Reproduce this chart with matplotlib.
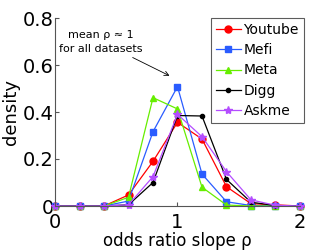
import numpy as np
import matplotlib.pyplot as plt

# odds ratio slope bins
rho = [0, 0.2, 0.4, 0.6, 0.8, 1.0, 1.2, 1.4, 1.6, 1.8, 2.0]

youtube = [0, 0, 0, 0.047, 0.19, 0.356, 0.285, 0.082, 0.01, 0.005, 0]
mefi = [0, 0, 0, 0.021, 0.316, 0.508, 0.136, 0.018, 0.002, 0.001, 0]
meta = [0, 0, 0, 0.037, 0.461, 0.413, 0.08, 0.004, 0.0, 0.0, 0]
digg = [0, 0, 0, 0.005, 0.10, 0.385, 0.383, 0.113, 0.016, 0.002, 0]
askme = [0, 0, 0, 0.005, 0.125, 0.39, 0.295, 0.146, 0.026, 0.003, 0]

series = [
    ('Youtube', youtube, '#ff0000', 'o', 5),
    ('Mefi', mefi, '#2a5cff', 's', 4.5),
    ('Meta', meta, '#66ee00', '^', 5),
    ('Digg', digg, '#000000', '.', 6),
    ('Askme', askme, '#b44dff', '*', 6),
]

fig = plt.figure(figsize=(3.32, 2.50), dpi=100)
ax = fig.add_axes([55/332, 44/250, 245/332, 188/250])

for name, vals, col, mk, ms in series:
    ax.plot(rho, vals, color=col, marker=mk, markersize=ms, lw=0.9,
            label=name, clip_on=False)

ax.set_xlim(0, 2)
ax.set_ylim(0, 0.8)
ax.set_xticks([0, 1, 2])
ax.set_yticks([0, 0.2, 0.4, 0.6, 0.8])
ax.set_yticklabels(['0', '0.2', '0.4', '0.6', '0.8'])
ax.tick_params(direction='in', labelsize=14, length=3, color='#555555')
ax.tick_params(axis='y', pad=1)
ax.tick_params(axis='x', pad=5)
for s in ['top', 'right']:
    ax.spines[s].set_visible(False)
for s in ['left', 'bottom']:
    ax.spines[s].set_color('#555555')
    ax.spines[s].set_linewidth(0.8)

ax.set_xlabel('odds ratio slope ρ', fontsize=12, labelpad=0)
ax.set_ylabel('density', fontsize=13, labelpad=2)

ax.annotate('mean ρ ≈ 1\nfor all datasets', xy=(0.955, 0.549), xytext=(0.37, 0.70),
            ha='center', va='center', fontsize=8, linespacing=1.5,
            arrowprops=dict(arrowstyle='->', color='black', lw=0.6))

leg = ax.legend(loc='upper right', bbox_to_anchor=(1.015, 1.0), fontsize=10,
                frameon=True, fancybox=False, edgecolor='#333333',
                handlelength=1.8, handletextpad=0.2, labelspacing=0.45,
                borderpad=0.35, borderaxespad=0)
leg.get_frame().set_linewidth(0.8)

fig.savefig('out.png', dpi=100)
